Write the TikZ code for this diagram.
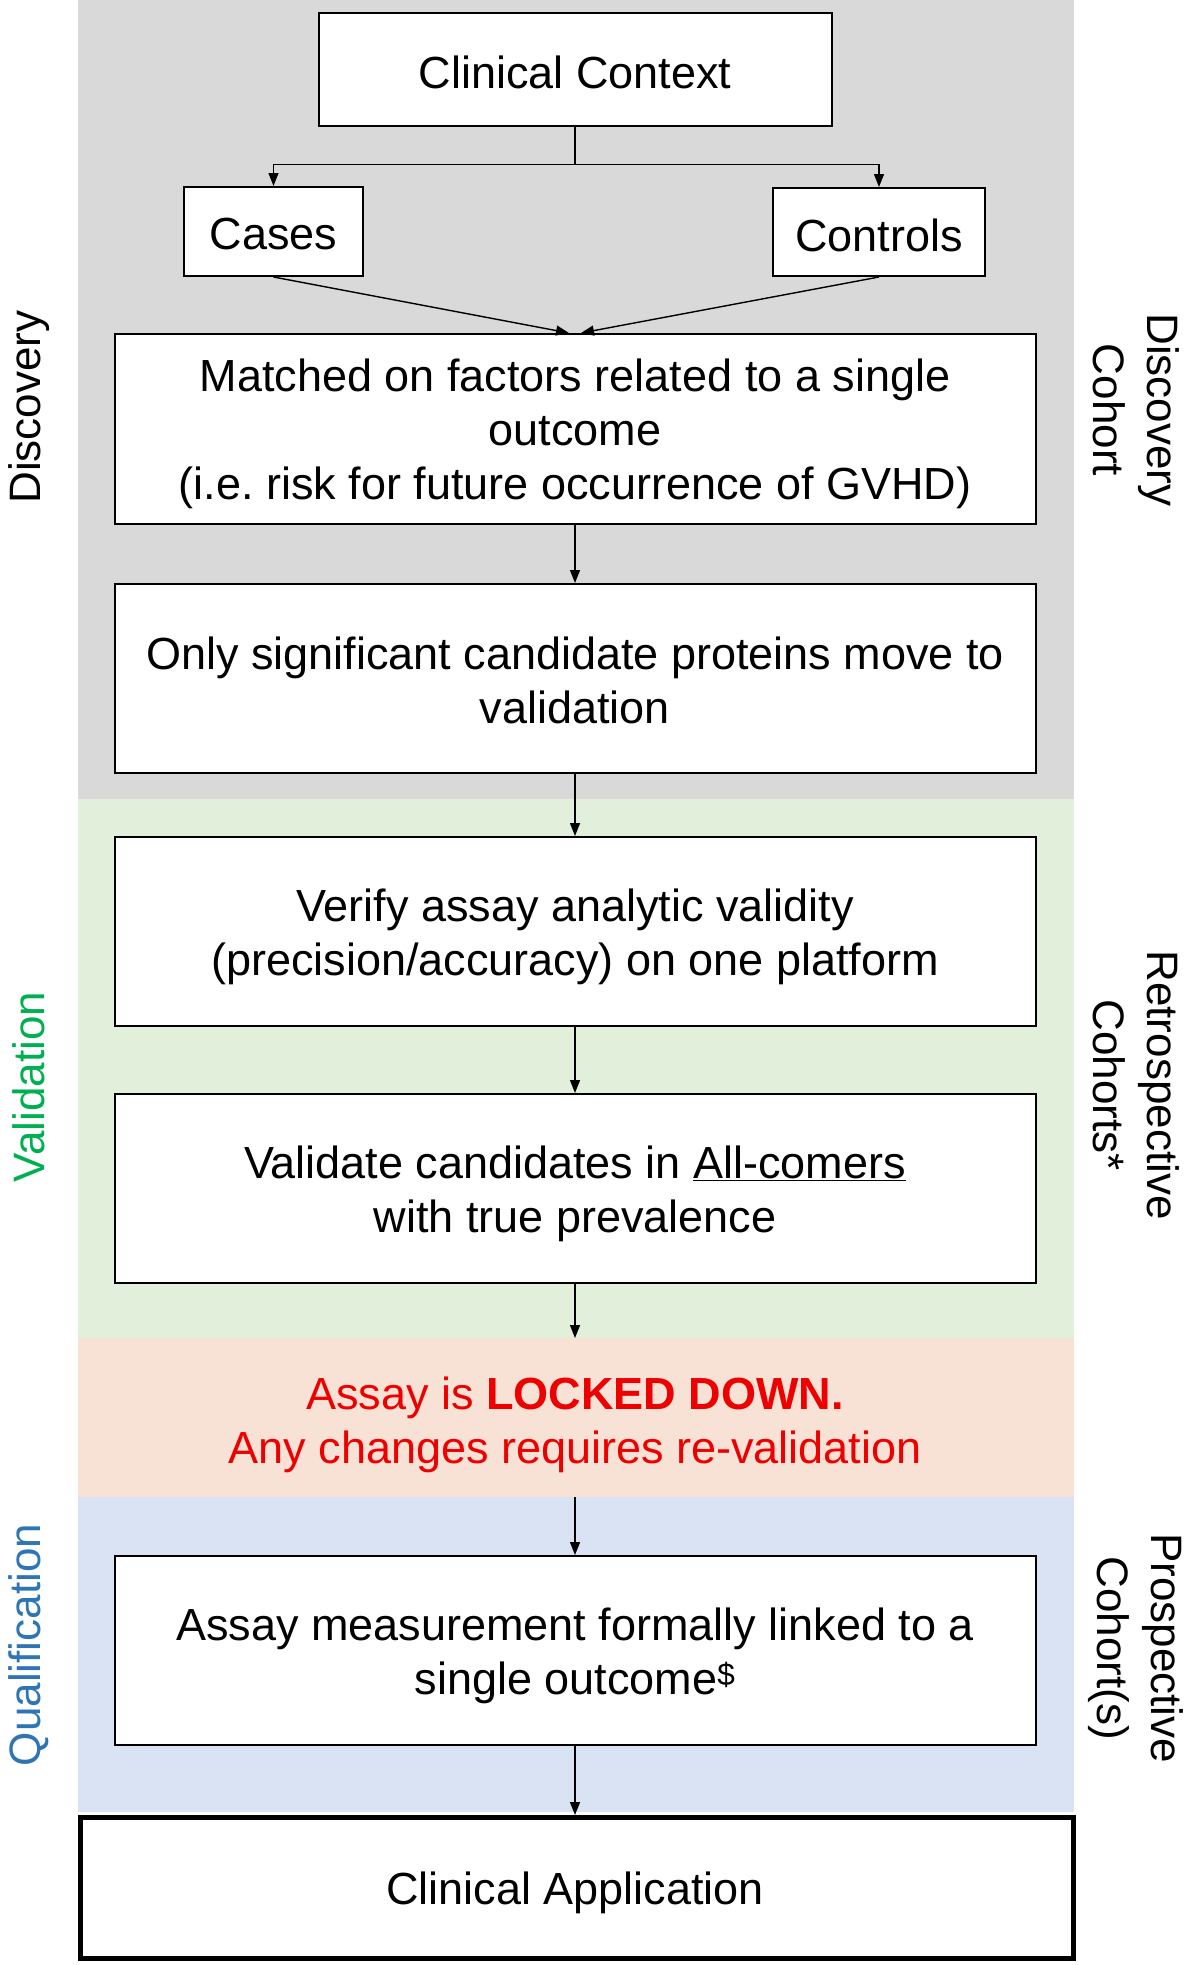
\documentclass[tikz,border=0pt]{standalone}
\usepackage{fontspec}
\setmainfont{Liberation Sans}
\usetikzlibrary{arrows.meta}
\definecolor{bandgrey}{HTML}{D9D9D9}
\definecolor{bandgreen}{HTML}{E2EFDA}
\definecolor{bandpeach}{HTML}{F8E2D6}
\definecolor{bandblue}{HTML}{DAE3F3}
\definecolor{valgreen}{HTML}{00B050}
\definecolor{qualblue}{HTML}{2E75B6}
\definecolor{lockred}{HTML}{EE0000}
\begin{document}
\frenchspacing
\begin{tikzpicture}[x=1pt,y=-1pt,
  box/.style={draw=black, line width=2pt, fill=white, inner sep=0pt},
  txt/.style={align=center, inner sep=0pt, font=\fontsize{45}{54}\selectfont},
  arr/.style={-{Triangle[length=13pt,width=10pt]}, line width=1.4pt},
  side/.style={font=\fontsize{44}{54}\selectfont, align=center, inner sep=0pt}]
\useasboundingbox (0,0) rectangle (1200,1965);
\fill[white] (0,0) rectangle (1200,1965);
% bands
\fill[bandgrey] (78,0) rectangle (1074,799);
\fill[bandgreen] (78,799) rectangle (1074,1338);
\fill[bandpeach] (78,1338) rectangle (1074,1497);
\fill[bandblue] (78,1497) rectangle (1074,1812);
% boxes
\node[box, minimum width=513pt, minimum height=113pt] (ctx) at (575,69) {};
\node[txt] (ctxT) at ([yshift=-3pt]ctx.center) {Clinical Context};
\node[box, minimum width=179pt, minimum height=89pt] (cases) at (273.5,231.5) {};
\node[txt] (casesT) at ([yshift=-3pt]cases.center) {Cases};
\node[box, minimum width=212pt, minimum height=88pt] (controls) at (879,232) {};
\node[txt] (controlsT) at ([yshift=-3pt]controls.center) {Controls};
\node[box, minimum width=921pt, minimum height=190pt] (matched) at (575,429) {};
\node[txt] (matchedT) at ([yshift=-5pt]matched.center)
  {Matched on factors related to a single\\outcome\\(i.e. risk for future occurrence of GVHD)};
\node[box, minimum width=921pt, minimum height=189pt] (only) at (575,678.5) {};
\node[txt] (onlyT) at ([yshift=-1.5pt]only.center)
  {Only significant candidate proteins move to\\validation};
\node[box, minimum width=921pt, minimum height=189pt] (verify) at (575,931.5) {};
\node[txt] (verifyT) at ([yshift=-5pt]verify.center)
  {Verify assay analytic validity\\(precision/accuracy) on one platform};
\node[box, minimum width=921pt, minimum height=189pt] (validate) at (575,1188.5) {};
\node[txt] (validateT) at ([yshift=-5pt]validate.center)
  {Validate candidates in \underline{All-comers}\\with true prevalence};
\node[txt, text=lockred] (locked) at (575,1425)
  {Assay is \textbf{LOCKED DOWN.}\\Any changes requires re-validation};
\coordinate (lockTop) at (575,1338);
\coordinate (lockBot) at (575,1497);
\node[box, minimum width=921pt, minimum height=189pt] (assay) at (575,1650.5) {};
\node[txt] (assayT) at ([yshift=-5pt]assay.center)
  {Assay measurement formally linked to a\\single outcome\textsuperscript{\$}};
\node[box, line width=5pt, minimum width=993pt, minimum height=141pt] (app) at (576.5,1888) {};
\node[txt] (appT) at ([xshift=-1.5pt,yshift=-5pt]app.center) {Clinical Application};
% side labels
\node[side, rotate=90] (lDisc) at (29,407) {Discovery};
\node[side, rotate=90, text=valgreen] (lVal) at (29,1087) {Validation};
\node[side, rotate=90, text=qualblue] (lQual) at (29,1645) {Qualification};
\node[side, rotate=-90] (rDisc) at (1136,410) {Discovery\\Cohort};
\node[side, rotate=-90] (rRetro) at (1136,1085) {Retrospective\\Cohorts*};
\node[side, rotate=-90] (rPro) at (1136,1648) {Prospective\\Cohort(s)};
% connectors
\draw[line width=1.4pt] (ctx.south) -- ++(0,38) coordinate (split);
\draw[arr] (split) -| (cases.north);
\draw[arr] (split) -| (controls.north);
\draw[arr] (cases.south) -- ([xshift=-6pt]matched.north);
\draw[arr] (controls.south) -- ([xshift=6pt]matched.north);
\draw[arr] (matched.south) -- (only.north);
\draw[arr] (only.south) -- (verify.north);
\draw[arr] (verify.south) -- (validate.north);
\draw[arr] (validate.south) -- (lockTop);
\draw[arr] (lockBot) -- (assay.north);
\draw[arr] (assay.south) -- (assay.south |- app.north);
\end{tikzpicture}
\end{document}
